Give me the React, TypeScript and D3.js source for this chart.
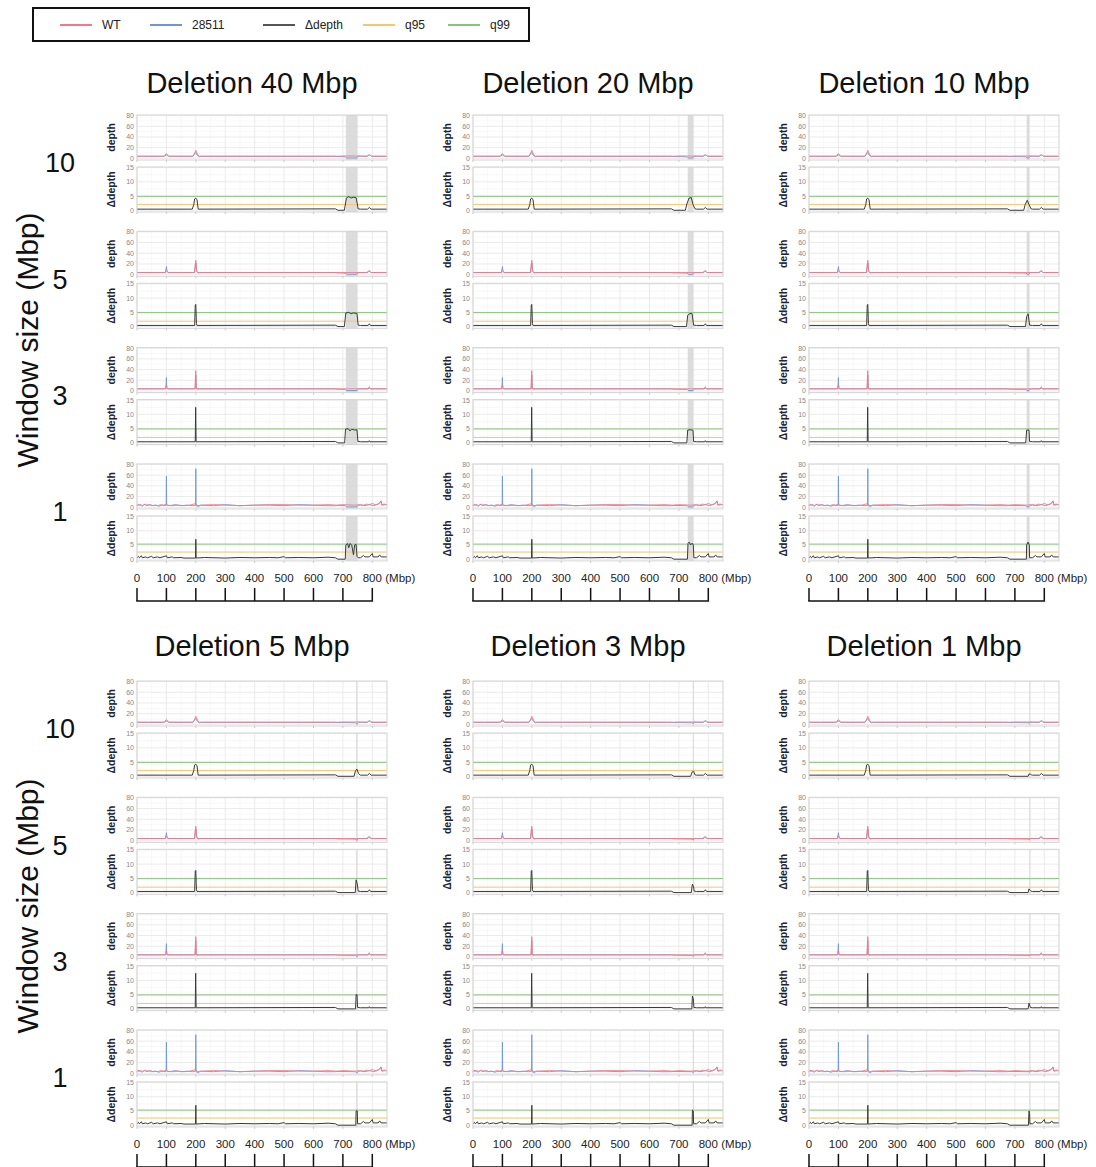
import React from "react";
import * as d3 from "d3";

type Pt = [number, number];

const windowSizes = [10, 5, 3, 1];
const deletionSizes = [40, 20, 10, 5, 3, 1];
const deletionStarts = [710, 730, 740, 745, 747, 749];
const deletionEnd = 750;
const xTicks = [0, 100, 200, 300, 400, 500, 600, 700, 800];
const depthTicks = [0, 20, 40, 60, 80];
const deltaTicks = [0, 5, 10, 15];
const q95 = [2.0, 1.9, 1.9, 2.5];
const q99 = [4.9, 4.9, 4.9, 5.3];
const legendLabels = ["WT", "28511", "Δdepth", "q95", "q99"];

// WT depth per window size
const wtDepthW10: Pt[] = [[0,4],[92,4],[100,6],[108,4],[190,4],[196,10],[200,15],[204,10],[210,4],[680,4],[700,4.5],[760,4.5],[782,4],[790,7],[798,4],[850,4]];
const wtDepthW5: Pt[] = [[0,4],[95,4],[100,9],[105,4],[195,4],[198,20],[200,27],[202,10],[206,4],[780,4],[790,8],[795,4],[850,4]];
const wtDepthW3: Pt[] = [[0,4],[97,4],[100,12],[103,4],[197,4],[199,30],[200,38],[202,4],[786,4],[790,8],[793,4],[850,4]];
const wtDepthW1: Pt[] = [[0,5],[3,3],[6,6],[10,4],[14,5],[18,3],[24,5],[30,4],[40,5],[50,3],[60,4],[70,3],[80,5],[90,4],[100,6],[103,4],[120,3],[140,4],[160,3],[180,4],[200,7],[205,3],[220,4],[260,5],[300,4],[350,3],[400,4],[450,5],[500,5],[550,4],[600,4],[650,5],[680,4],[700,5],[740,4],[760,5],[770,4],[780,6],[790,5],[800,7],[810,5],[820,6],[830,10],[833,5],[840,6],[850,5]];

// 28511 depth per window size (deleted region added per deletion)
const mutDepthW10: Pt[] = [[0,4],[92,4],[100,9],[108,4],[190,4],[196,8],[200,11],[205,6],[212,3],[218,4],[675,4],[760,4],[782,4],[790,6.5],[798,4],[850,4]];
const mutDepthW5: Pt[] = [[0,4],[97,4],[100,15],[102,6],[106,4],[196,4],[199,18],[201,22],[203,6],[208,3],[214,4],[675,4],[760,4],[785,4],[790,7],[795,4],[850,4]];
const mutDepthW3: Pt[] = [[0,4],[98,4],[100,25],[101,6],[104,4],[198,4],[200,30],[201,8],[204,3],[210,4],[675,4],[760,4],[786,4],[790,7],[793,4],[850,4]];
const mutDepthW1: Pt[] = [[0,3],[4,6],[8,3],[12,5],[16,2],[22,4],[28,6],[34,3],[45,5],[55,3],[65,4],[75,2],[85,4],[95,3],[99,4],[100,58],[101,4],[110,3],[130,5],[150,3],[170,4],[190,3],[199,4],[200,72],[201,3],[210,1],[215,4],[260,3],[300,5],[350,3],[400,4],[450,4],[500,3],[550,5],[600,4],[640,3],[675,3],[760,4],[775,3],[790,5],[805,3],[820,6],[830,12],[832,4],[845,5],[850,4]];

// 28511 depth around each deletion
const mutDel40: Pt[] = [[680,3.5],[708,3],[712,0.8],[748,0.8],[752,4]];
const mutDel20: Pt[] = [[680,3.5],[728,3],[732,0.8],[748,0.8],[752,4]];
const mutDel10: Pt[] = [[680,3.5],[738,3],[741,0.8],[748,0.8],[752,4]];
const mutDel5: Pt[] = [[680,3.5],[743,3],[746,1],[749,1],[752,4]];
const mutDel3: Pt[] = [[680,3.5],[745,3],[748,1.5],[750,1.5],[752,4]];
const mutDel1: Pt[] = [[680,3.5],[748,3],[749,2],[750,2],[752,4]];

// Δdepth per window size (deleted region added per deletion)
const deltaW10: Pt[] = [[0,0.4],[188,0.4],[193,2],[196,4],[200,4.2],[204,3.8],[208,0.4],[675,0.4],[760,0.4],[784,0.4],[790,1],[796,0.4],[850,0.4]];
const deltaW5: Pt[] = [[0,0.4],[196,0.4],[198,7.5],[200,7.8],[202,1],[204,0.4],[675,0.4],[760,0.4],[786,0.4],[790,1],[794,0.4],[850,0.4]];
const deltaW3: Pt[] = [[0,0.4],[198,0.4],[199.5,12.5],[201,0.4],[675,0.4],[760,0.4],[788,0.4],[790,0.8],[792,0.4],[850,0.4]];
const deltaW1: Pt[] = [[0,0.5],[5,1],[8,0.5],[15,1.2],[18,0.5],[30,0.8],[35,0.5],[50,1],[55,0.5],[70,0.8],[78,0.5],[100,1.2],[103,0.5],[120,0.8],[125,0.5],[150,0.6],[160,0.4],[199,0.4],[200,7],[201,0.4],[230,0.6],[300,0.4],[350,0.6],[400,0.5],[450,0.6],[480,0.5],[500,0.9],[505,0.5],[550,0.6],[600,0.5],[650,0.7],[675,0.5],[760,0.5],[770,1.3],[775,0.8],[790,0.8],[800,2],[803,0.8],[820,0.8],[825,1.5],[830,0.8],[850,0.8]];

// Δdepth around each deletion, for window sizes 10, 5, 3, 1
const deltaDel40: Pt[][] = [
  [[675,0.5],[683,0],[705,0],[712,4.3],[720,4.8],[728,4.3],[735,4.6],[745,4.4],[752,0.5]],
  [[675,0.5],[683,0],[705,0],[710,4.8],[720,5],[728,4.5],[735,4.8],[748,4.6],[752,0.5]],
  [[675,0.5],[683,0],[706,0],[709,4.8],[718,5],[724,4.2],[730,4.8],[740,4.5],[748,4.6],[751,0.5]],
  [[675,0.5],[683,0],[708,0],[710,5],[716,5.5],[720,4],[724,5.5],[730,5],[736,1.5],[740,5],[745,5.2],[748,1],[752,0.5]],
];
const deltaDel20: Pt[][] = [
  [[675,0.5],[683,0],[722,0],[728,2.5],[735,4.3],[742,4.5],[748,2],[755,0.5]],
  [[675,0.5],[683,0],[726,0],[730,4],[738,4.6],[745,4.5],[750,0.5]],
  [[675,0.5],[683,0],[727,0],[730,4.5],[740,4.6],[748,4.4],[750,0.5]],
  [[675,0.5],[683,0],[729,0],[731,5.5],[735,6],[740,5],[745,5.6],[749,5],[751,0.5]],
];
const deltaDel10: Pt[][] = [
  [[675,0.5],[683,0],[730,0],[735,2],[742,3.5],[748,2],[755,0.5]],
  [[675,0.5],[683,0],[736,0],[740,3.5],[745,4.5],[750,0.5]],
  [[675,0.5],[683,0],[737,0],[740,4.5],[748,4.5],[750,0.5]],
  [[675,0.5],[683,0],[739,0],[740,5],[745,6],[749,5],[750,0.5]],
];
const deltaDel5: Pt[][] = [
  [[675,0.5],[683,0],[738,0],[743,2],[748,2.5],[753,1],[758,0.5]],
  [[675,0.5],[683,0],[742,0],[745,4.5],[749,3],[752,0.5]],
  [[675,0.5],[683,0],[743,0],[745,5],[748,5],[750,0.5]],
  [[675,0.5],[683,0],[744,0],[745,5],[749,5],[750,0.5]],
];
const deltaDel3: Pt[][] = [
  [[675,0.5],[683,0],[740,0],[745,1.5],[750,1.8],[755,0.5]],
  [[675,0.5],[683,0],[742,0],[746,3],[750,2],[752,0.5]],
  [[675,0.5],[683,0],[744,0],[746,4.5],[749,3.5],[751,0.5]],
  [[675,0.5],[683,0],[745,0],[746,5.3],[749,5],[750,0.5]],
];
const deltaDel1: Pt[][] = [
  [[675,0.5],[683,0],[745,0],[748,0.8],[752,0.8],[756,0.5]],
  [[675,0.5],[683,0],[745,0],[748,1.3],[752,0.8],[755,0.5]],
  [[675,0.5],[683,0],[745,0],[748,2],[751,1],[753,0.5]],
  [[675,0.5],[683,0],[746,0],[748,5],[750,4],[751,0.5]],
];

const wtDepth = [wtDepthW10, wtDepthW5, wtDepthW3, wtDepthW1];
const mutDepth = [mutDepthW10, mutDepthW5, mutDepthW3, mutDepthW1];
const deltaBase = [deltaW10, deltaW5, deltaW3, deltaW1];
const mutDel = [mutDel40, mutDel20, mutDel10, mutDel5, mutDel3, mutDel1];
const deltaDel = [deltaDel40, deltaDel20, deltaDel10, deltaDel5, deltaDel3, deltaDel1];

const C_WT = "#f07a88";
const C_MUT = "#6f97d8";
const C_DELTA = "#3a3a3a";
const C_Q95 = "#f6c66e";
const C_Q99 = "#86c477";
const FONT = "Liberation Sans, Arial, sans-serif";

const colLefts = [137, 473, 809];
const halfTops = [115, 681];
const titleBase = [93, 656];
const rowStep = 116.3;
const plotW = 250;
const panelH = 45;
const gap = 52;

function merge(base: Pt[], seg: Pt[]): Pt[] {
  const a = seg[0][0];
  const b = seg[seg.length - 1][0];
  return base.filter((p) => p[0] < a || p[0] > b).concat(seg).sort((p, q) => p[0] - q[0]);
}

function Group({ g }: { g: number }) {
  const col = g % 3;
  const half = Math.floor(g / 3);
  const x0 = colLefts[col];
  const x = d3.scaleLinear().domain([0, 850]).range([x0, x0 + plotW]);
  const lastBottom = halfTops[half] + 3 * rowStep + gap + panelH;
  return (
    <g>
      <text x={x0 + 115} y={titleBase[half]} textAnchor="middle" fontSize={29} fontFamily={FONT} fill="#111">
        {`Deletion ${deletionSizes[g]} Mbp`}
      </text>
      {windowSizes.map((w, r) => {
        const top = halfTops[half] + r * rowStep;
        const yD = d3.scaleLinear().domain([-3, 81]).range([top + panelH, top]);
        const yQ = d3.scaleLinear().domain([-0.6, 15.2]).range([top + gap + panelH, top + gap]);
        const lineD = d3.line<Pt>().x((p) => x(p[0])).y((p) => yD(p[1]));
        const lineQ = d3.line<Pt>().x((p) => x(p[0])).y((p) => yQ(p[1]));
        const mut = merge(mutDepth[r], mutDel[g]);
        const delta = merge(deltaBase[r], deltaDel[g][r]);
        const panels = [
          { t: top, y: yD, ticks: depthTicks, minor: [10, 30, 50, 70], label: "depth" },
          { t: top + gap, y: yQ, ticks: deltaTicks, minor: [2.5, 7.5, 12.5], label: "Δdepth" },
        ];
        return (
          <g key={r}>
            {panels.map((p, i) => (
              <g key={i}>
                <rect x={x0} y={p.t} width={plotW} height={panelH} fill="#fff" />
                {xTicks.map((v) => (
                  <line key={"mv" + v} x1={x(v + 50)} x2={x(v + 50)} y1={p.t} y2={p.t + panelH} stroke="#f4f4f4" strokeWidth={0.6} />
                ))}
                {p.minor.map((v) => (
                  <line key={"mh" + v} x1={x0} x2={x0 + plotW} y1={p.y(v)} y2={p.y(v)} stroke="#f4f4f4" strokeWidth={0.6} />
                ))}
                {xTicks.map((v) => (
                  <line key={"v" + v} x1={x(v)} x2={x(v)} y1={p.t} y2={p.t + panelH} stroke="#e6e6e6" strokeWidth={0.8} />
                ))}
                {p.ticks.map((v) => (
                  <line key={"h" + v} x1={x0} x2={x0 + plotW} y1={p.y(v)} y2={p.y(v)} stroke="#e6e6e6" strokeWidth={0.8} />
                ))}
                <rect x={x(deletionStarts[g])} y={p.t} width={Math.max(1.2, x(deletionEnd) - x(deletionStarts[g]))} height={panelH} fill="#d6d6d6" opacity={0.85} />
                {p.ticks.map((v) => (
                  <text key={"t" + v} x={x0 - 3} y={p.y(v)} dy="0.35em" textAnchor="end" fontSize={7} fill="#888" fontFamily={FONT}>{v}</text>
                ))}
                {xTicks.map((v) => (
                  <line key={"tk" + v} x1={x(v)} x2={x(v)} y1={p.t + panelH} y2={p.t + panelH + 2} stroke="#aaa" strokeWidth={0.7} />
                ))}
                <text transform={`translate(${x0 - 26},${p.t + panelH / 2}) rotate(-90)`} textAnchor="middle" dy="0.35em" fontSize={10.5} fontWeight="bold" fill="#223" fontFamily={FONT}>{p.label}</text>
              </g>
            ))}
            <path d={lineD(mut) || ""} fill="none" stroke={C_MUT} strokeWidth={0.9} />
            <path d={lineD(wtDepth[r]) || ""} fill="none" stroke={C_WT} strokeWidth={0.9} />
            <line x1={x0} x2={x0 + plotW} y1={yQ(q95[r])} y2={yQ(q95[r])} stroke={C_Q95} strokeWidth={1} />
            <line x1={x0} x2={x0 + plotW} y1={yQ(q99[r])} y2={yQ(q99[r])} stroke={C_Q99} strokeWidth={1} />
            <path d={lineQ(delta) || ""} fill="none" stroke={C_DELTA} strokeWidth={1} />
            {panels.map((p, i) => (
              <rect key={"b" + i} x={x0} y={p.t} width={plotW} height={panelH} fill="none" stroke="#d4d4d4" strokeWidth={1} />
            ))}
            {col === 0 && (
              <text x={60} y={top + 48} dy="0.35em" textAnchor="middle" fontSize={27} fill="#111" fontFamily={FONT}>{w}</text>
            )}
          </g>
        );
      })}
      {xTicks.map((v) => (
        <text key={"xl" + v} x={x(v)} y={lastBottom + 21} textAnchor="middle" fontSize={11.5} fill="#222" fontFamily={FONT}>{v}</text>
      ))}
      <text x={x(800) + 13} y={lastBottom + 21} fontSize={11.5} fill="#222" fontFamily={FONT}>(Mbp)</text>
      {xTicks.map((v) => (
        <line key={"rk" + v} x1={x(v)} x2={x(v)} y1={lastBottom + 27} y2={lastBottom + 40} stroke="#111" strokeWidth={1.5} />
      ))}
      <line x1={x(0) - 0.75} x2={x(800) + 0.75} y1={lastBottom + 40} y2={lastBottom + 40} stroke="#111" strokeWidth={1.5} />
    </g>
  );
}

export default function App() {
  const legendX = [60, 150, 263, 363, 448];
  const legendColors = [C_WT, C_MUT, "#555", C_Q95, C_Q99];
  return (
    <svg width={1096} height={1167} style={{ display: "block", position: "absolute", left: 0, top: 0 }}>
      <rect x={0} y={0} width={1096} height={1167} fill="#fff" />
      <rect x={33} y={8} width={496} height={33} fill="#fff" stroke="#111" strokeWidth={2} />
      {legendLabels.map((l, i) => (
        <g key={l}>
          <line x1={legendX[i]} x2={legendX[i] + 32} y1={25} y2={25} stroke={legendColors[i]} strokeWidth={2} />
          <text x={legendX[i] + 42} y={25} dy="0.35em" fontSize={12} fill="#222" fontFamily={FONT}>{l}</text>
        </g>
      ))}
      {[0, 1].map((h) => (
        <text key={h} transform={`translate(27,${halfTops[h] + 225}) rotate(-90)`} textAnchor="middle" dy="0.35em" fontSize={30} fill="#111" fontFamily={FONT}>Window size (Mbp)</text>
      ))}
      {deletionSizes.map((_, g) => (
        <Group key={g} g={g} />
      ))}
    </svg>
  );
}
